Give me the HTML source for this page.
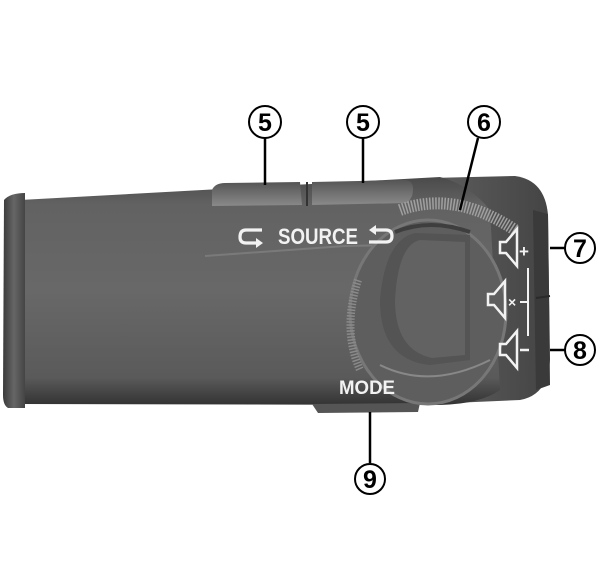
<!DOCTYPE html>
<html><head><meta charset="utf-8"><style>
html,body{margin:0;padding:0;background:#fff;}
svg{display:block}
text{font-family:"Liberation Sans",sans-serif;}
</style></head><body>
<svg width="600" height="566" viewBox="0 0 600 566" xmlns="http://www.w3.org/2000/svg">
<defs>
<linearGradient id="bg" x1="0" y1="0" x2="0" y2="1">
<stop offset="0" stop-color="#4a4a4a"/><stop offset="0.12" stop-color="#626262"/><stop offset="0.5" stop-color="#686868"/><stop offset="0.88" stop-color="#5a5a5a"/><stop offset="1" stop-color="#333"/>
</linearGradient>
<linearGradient id="cap" x1="0" y1="0" x2="1" y2="0">
<stop offset="0" stop-color="#3a3a3a"/><stop offset="0.5" stop-color="#666"/><stop offset="1" stop-color="#444"/>
</linearGradient>
<linearGradient id="btn" x1="0" y1="0" x2="0" y2="1">
<stop offset="0" stop-color="#555"/><stop offset="1" stop-color="#8a8a8a"/>
</linearGradient>
<linearGradient id="rend" x1="0" y1="0" x2="1" y2="0">
<stop offset="0" stop-color="#5e5e5e"/><stop offset="1" stop-color="#444"/>
</linearGradient>
</defs>
<!-- right end -->
<path d="M430 178 L515 176 Q545 180 548 215 L550 360 Q548 395 520 400 L430 404 Z" fill="url(#rend)"/>
<path d="M533 210 L548 214 L550 385 L536 390 Z" fill="#3a3a3a"/>
<line x1="536" y1="298" x2="550" y2="296" stroke="#2a2a2a" stroke-width="2"/>
<!-- main body -->
<path d="M20 200 L440 177 Q470 185 490 210 L500 390 Q480 404 440 405 L20 404 Z" fill="url(#bg)"/>
<!-- left cap -->
<path d="M4 200 Q10 193 25 193 L25 408 L8 408 Q3 405 3 395 Z" fill="url(#cap)"/>
<!-- top buttons -->
<path d="M212 190 Q215 183 225 183 L300 182 L302 205 L212 206 Z" fill="url(#btn)"/>
<path d="M312 182 L405 180 Q416 181 412 196 L408 203 L312 205 Z" fill="url(#btn)"/>
<line x1="307" y1="182" x2="307" y2="206" stroke="#333" stroke-width="2"/>
<!-- mode button -->
<path d="M312 404 L420 403 L418 412 L318 413 Z" fill="#555"/>
<!-- faint strip line -->
<path d="M205 256 L345 246 L440 244" stroke="#7a7a7a" stroke-width="2" fill="none"/>
<!-- dial ring -->
<path d="M400 210 Q455 190 515 230" stroke="#a0a0a0" stroke-width="12" fill="none" stroke-dasharray="1.5 1.5"/>
<ellipse cx="428" cy="312" rx="78" ry="92" fill="#5e5e5e"/>
<ellipse cx="428" cy="312" rx="78" ry="92" fill="none" stroke="#777" stroke-width="3"/>
<path d="M358 280 Q342 330 360 370" stroke="#8a8a8a" stroke-width="8" fill="none" stroke-dasharray="1.5 1.5"/>
<path d="M380 300 Q385 240 415 233 L470 235 L470 360 L430 365 Q380 360 380 300 Z" fill="#545454"/>
<path d="M395 300 Q398 245 420 240 L465 242 L465 355 L432 358 Q395 350 395 300 Z" fill="#626262"/>
<path d="M380 365 Q430 390 490 360" stroke="#888" stroke-width="2" fill="none"/>
<path d="M395 232 Q430 218 470 232" stroke="#3e3e3e" stroke-width="4" fill="none"/>
<!-- texts -->
<text x="278" y="244" font-size="22" font-weight="bold" fill="#f2f2f2" textLength="80" lengthAdjust="spacingAndGlyphs">SOURCE</text>
<g fill="none" stroke="#f2f2f2" stroke-width="3.2">
<path d="M262 230 H246 Q240 230 240 237 Q240 243 246 243 H258"/>
<path d="M376 230 H386 Q392 230 392 236 Q392 242 386 242 H369"/>
</g>
<path d="M256 238 L263 243 L256 248 Z" fill="#f2f2f2"/>
<path d="M376 225 L369 230 L376 235 Z" fill="#f2f2f2"/>
<text x="339" y="394" font-size="19" font-weight="bold" fill="#f2f2f2" textLength="56" lengthAdjust="spacingAndGlyphs">MODE</text>
<!-- volume icons -->
<g fill="none" stroke="#f2f2f2" stroke-width="2.5">
<path d="M500 242 h6 l11 -13 v37 l-11 -13 h-6 z"/>
<path d="M488 294 h6 l11 -13 v37 l-11 -13 h-6 z"/>
<path d="M500 344 h6 l11 -13 v37 l-11 -13 h-6 z"/>
</g>
<line x1="528" y1="268" x2="528" y2="336" stroke="#f2f2f2" stroke-width="2"/>
<line x1="520" y1="302" x2="528" y2="302" stroke="#f2f2f2" stroke-width="2"/>
<text x="519" y="257" font-size="17" font-weight="bold" fill="#f2f2f2">+</text>
<text x="508" y="307" font-size="14" font-weight="bold" fill="#f2f2f2">×</text>
<line x1="520" y1="350" x2="529" y2="350" stroke="#f2f2f2" stroke-width="2.5"/>
<!-- leader lines -->
<g stroke="#000" stroke-width="2.5">
<line x1="265" y1="138" x2="265" y2="185"/>
<line x1="363" y1="138" x2="363" y2="183"/>
<line x1="478" y1="138" x2="460" y2="210"/>
<line x1="550" y1="248" x2="565" y2="248"/>
<line x1="550" y1="350" x2="565" y2="350"/>
<line x1="370" y1="412" x2="370" y2="463"/>
</g>
<!-- callouts -->
<g fill="#fff" stroke="#000" stroke-width="2">
<circle cx="265" cy="122" r="16"/><circle cx="363" cy="122" r="16"/><circle cx="484" cy="122" r="16"/>
<circle cx="580" cy="248" r="15"/><circle cx="580" cy="350" r="15"/><circle cx="370" cy="479" r="15"/>
</g>
<g font-size="25" font-weight="bold" text-anchor="middle" fill="#000">
<text x="265" y="131">5</text><text x="363" y="131">5</text><text x="484" y="131">6</text>
<text x="580" y="257">7</text><text x="580" y="359">8</text><text x="370" y="488">9</text>
</g>
</svg>
</body></html>
